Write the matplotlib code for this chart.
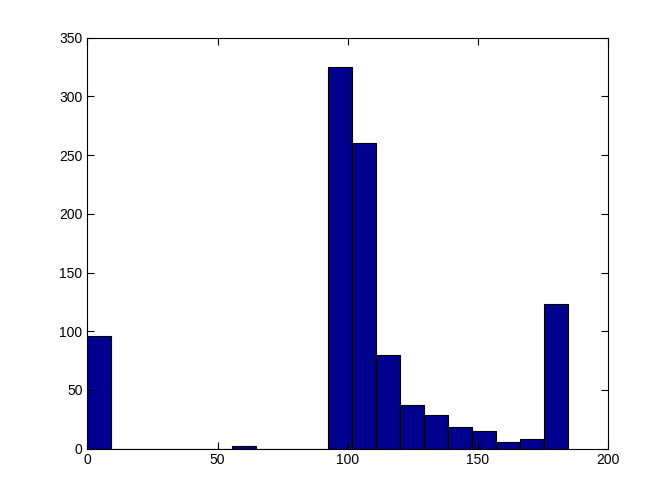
import numpy as np
import matplotlib.pyplot as plt

# histogram: 20 bins over the data range 0 .. 184.6
bin_lo = 0.0
bin_hi = 184.6
counts = [96, 0, 0, 0, 0, 0, 2, 0, 0, 0, 325, 260, 80, 37, 29, 18, 15, 6, 8, 123]

edges = np.linspace(bin_lo, bin_hi, len(counts) + 1)
widths = np.diff(edges)

plt.rcParams['font.family'] = ['Liberation Sans', 'DejaVu Sans']

fig = plt.figure(figsize=(6.72, 5.04), dpi=100)
ax = fig.add_axes([0.13, 0.11, 0.775, 0.815])
ax.bar(edges[:-1], counts, width=widths, align='edge',
       color='#00008F', edgecolor='black', linewidth=0.8)

ax.set_xlim(0, 200)
ax.set_ylim(0, 350)
ax.set_xticks([0, 50, 100, 150, 200])
ax.set_yticks(np.arange(0, 351, 50))
ax.tick_params(direction='in', top=True, right=True, labelsize=10, length=5)
for s in ax.spines.values():
    s.set_linewidth(0.8)

fig.savefig('out.png', dpi=100)
